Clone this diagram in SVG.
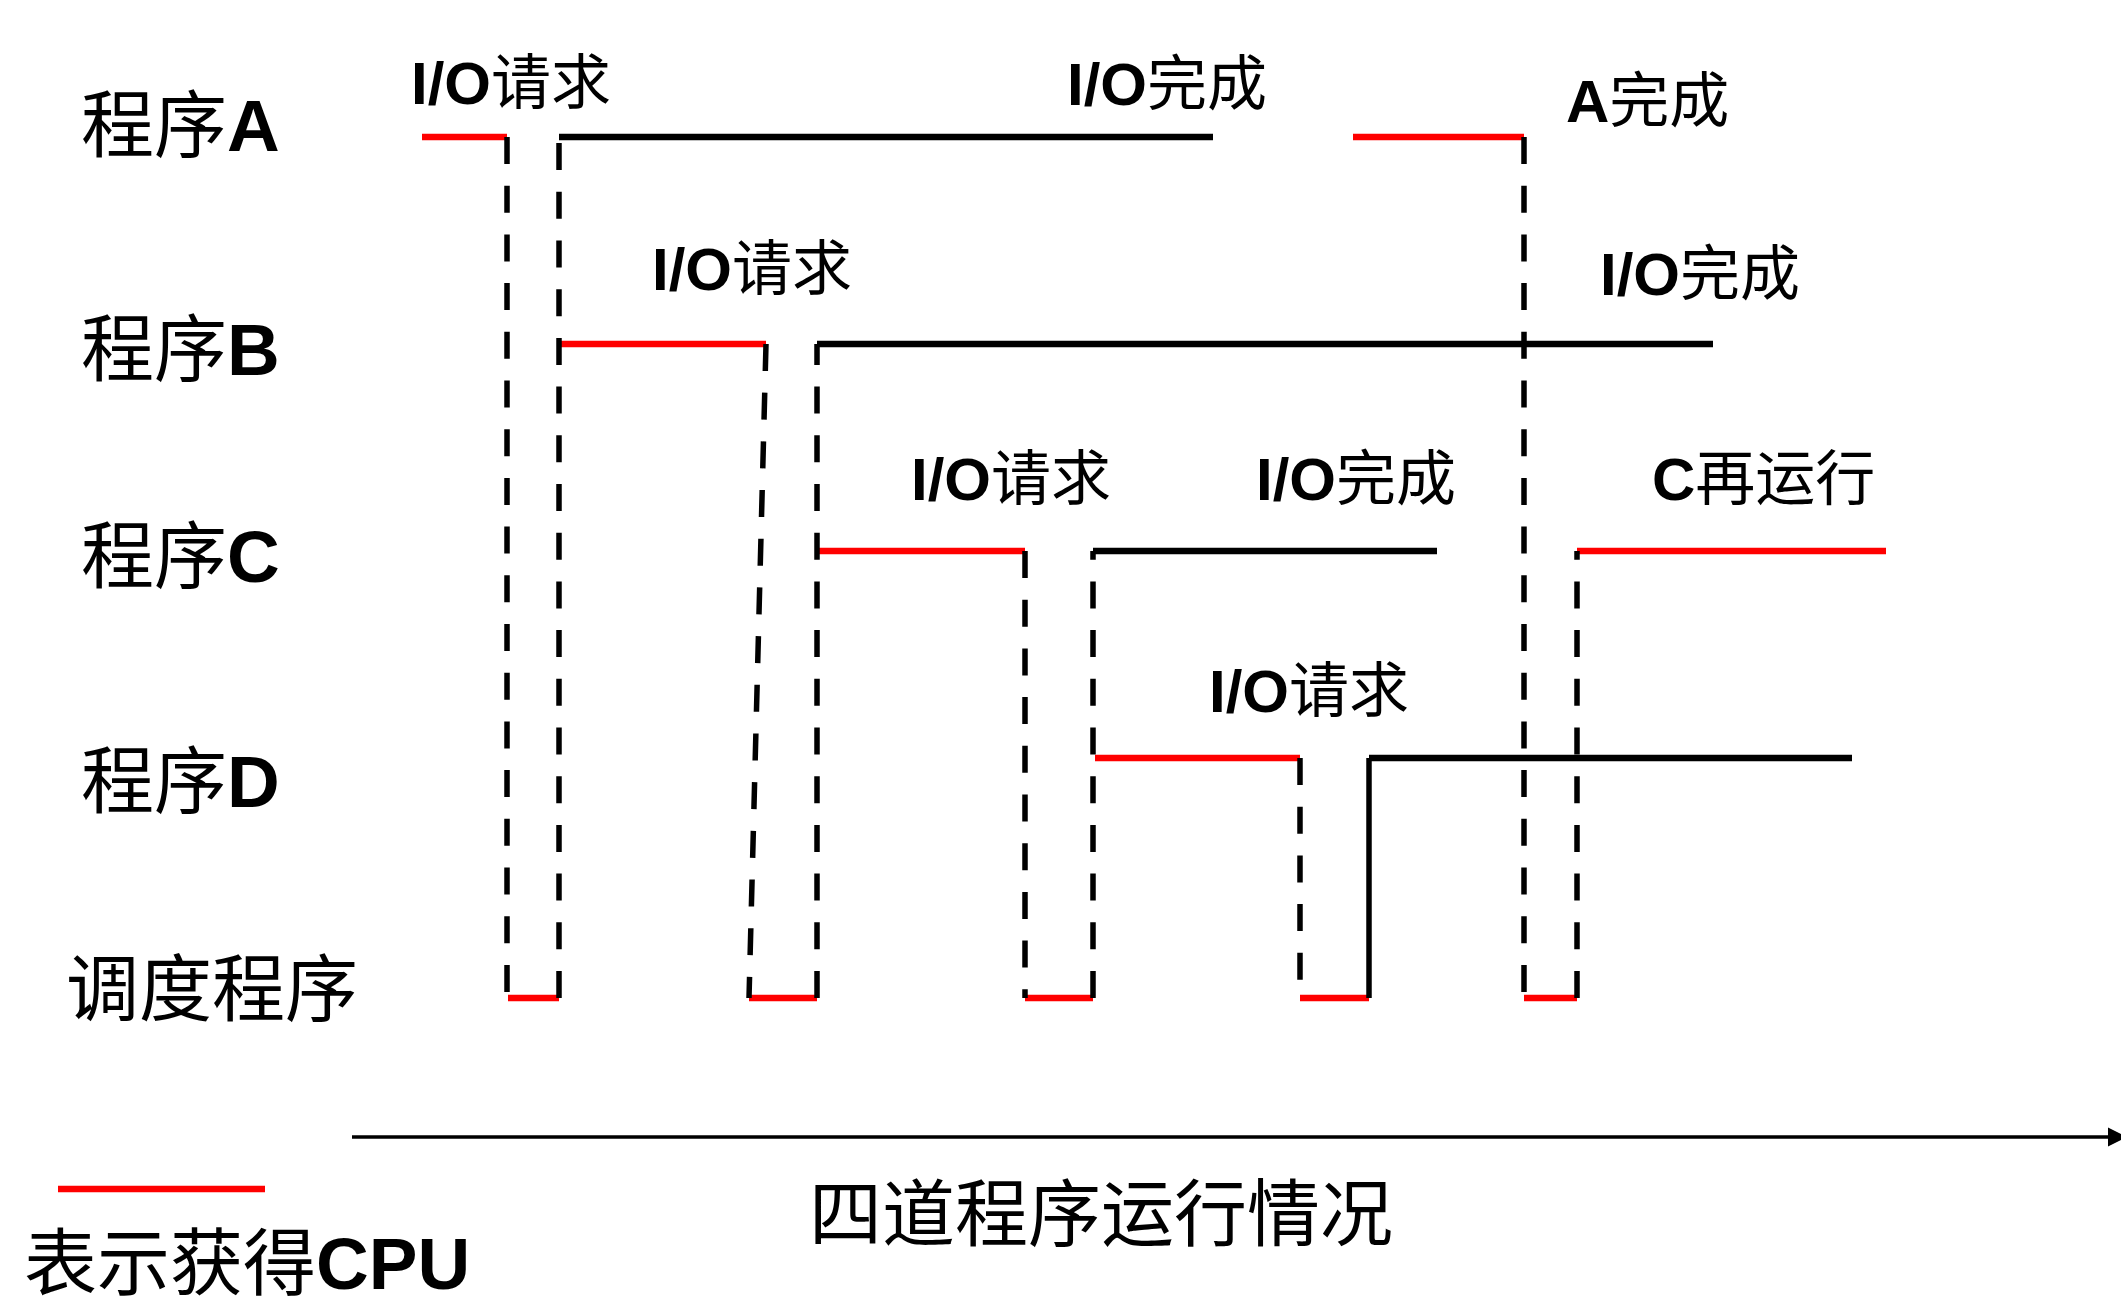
<svg xmlns="http://www.w3.org/2000/svg" width="2121" height="1307" viewBox="0 0 2121 1307">
<style>
text { font-family: "Liberation Sans", "Noto Sans CJK SC", sans-serif; font-weight: bold; fill: #000; }
.c { font-weight: normal; }
.row { font-size: 73px; }
.ev { font-size: 60px; }
.red { stroke: #ff0000; stroke-width: 6.5; fill: none; }
.blk { stroke: #000; stroke-width: 6.5; fill: none; }
.dash { stroke: #000; stroke-width: 5.5; stroke-dasharray: 27 21.7; fill: none; }
.solid { stroke: #000; stroke-width: 5.5; fill: none; }
.axis { stroke: #000; stroke-width: 3.5; fill: none; }
</style>
<rect width="2121" height="1307" fill="#fff"/>

<g id="row-labels">
  <g id="label-A"><text class="row" x="81" y="151"><tspan class="c">程序</tspan>A</text></g>
  <g id="label-B"><text class="row" x="81" y="375"><tspan class="c">程序</tspan>B</text></g>
  <g id="label-C"><text class="row" x="81" y="582"><tspan class="c">程序</tspan>C</text></g>
  <g id="label-D"><text class="row" x="81" y="807"><tspan class="c">程序</tspan>D</text></g>
  <g id="label-sched"><text class="row c" x="66" y="1015">调度程序</text></g>
</g>

<g id="event-labels">
  <g id="ev-A-req"><text class="ev" x="411" y="104">I/O<tspan class="c">请求</tspan></text></g>
  <g id="ev-A-done"><text class="ev" x="1067" y="105">I/O<tspan class="c">完成</tspan></text></g>
  <g id="ev-A-fin"><text class="ev" x="1566" y="122">A<tspan class="c">完成</tspan></text></g>
  <g id="ev-B-req"><text class="ev" x="652" y="290">I/O<tspan class="c">请求</tspan></text></g>
  <g id="ev-B-done"><text class="ev" x="1600" y="295">I/O<tspan class="c">完成</tspan></text></g>
  <g id="ev-C-req"><text class="ev" x="911" y="500">I/O<tspan class="c">请求</tspan></text></g>
  <g id="ev-C-done"><text class="ev" x="1256" y="500">I/O<tspan class="c">完成</tspan></text></g>
  <g id="ev-C-rerun"><text class="ev" x="1652" y="500">C<tspan class="c">再运行</tspan></text></g>
  <g id="ev-D-req"><text class="ev" x="1209" y="712">I/O<tspan class="c">请求</tspan></text></g>
</g>

<g id="timelines">
  <!-- program A -->
  <line class="red" x1="422" y1="137" x2="507" y2="137"/>
  <line class="blk" x1="559" y1="137" x2="1213" y2="137"/>
  <line class="red" x1="1353" y1="137" x2="1524" y2="137"/>
  <!-- program B -->
  <line class="red" x1="559" y1="344" x2="766" y2="344"/>
  <line class="blk" x1="817" y1="344" x2="1713" y2="344"/>
  <!-- program C -->
  <line class="red" x1="819" y1="551" x2="1025" y2="551"/>
  <line class="blk" x1="1093" y1="551" x2="1437" y2="551"/>
  <line class="red" x1="1577" y1="551" x2="1886" y2="551"/>
  <!-- program D -->
  <line class="red" x1="1095" y1="758" x2="1300" y2="758"/>
  <line class="blk" x1="1369" y1="758" x2="1852" y2="758"/>
  <!-- scheduler -->
  <line class="red" x1="508" y1="998" x2="559" y2="998"/>
  <line class="red" x1="749" y1="998" x2="817" y2="998"/>
  <line class="red" x1="1025" y1="998" x2="1093" y2="998"/>
  <line class="red" x1="1300" y1="998" x2="1369" y2="998"/>
  <line class="red" x1="1524" y1="998" x2="1577" y2="998"/>
</g>

<g id="connectors">
  <path class="dash" d="M507 137 V998"/>
  <path class="dash" d="M559 998 V137"/>
  <path class="dash" d="M766 344 L749 998"/>
  <path class="dash" d="M817 998 V344"/>
  <path class="dash" d="M1025 551 V998"/>
  <path class="dash" d="M1093 998 V551"/>
  <path class="dash" d="M1300 758 V998"/>
  <path class="solid" d="M1369 758 V998"/>
  <path class="dash" d="M1524 137 V998"/>
  <path class="dash" d="M1577 998 V551"/>
</g>

<g id="time-axis">
  <line class="axis" x1="352" y1="1137" x2="2112" y2="1137"/>
  <polygon points="2108,1127.5 2127,1137 2108,1146.5" fill="#000"/>
  <text class="row c" x="809" y="1240">四道程序运行情况</text>
</g>

<g id="legend">
  <line class="red" x1="58" y1="1189" x2="265" y2="1189"/>
  <text class="row" x="24" y="1289"><tspan class="c">表示获得</tspan>CPU</text>
</g>
</svg>
